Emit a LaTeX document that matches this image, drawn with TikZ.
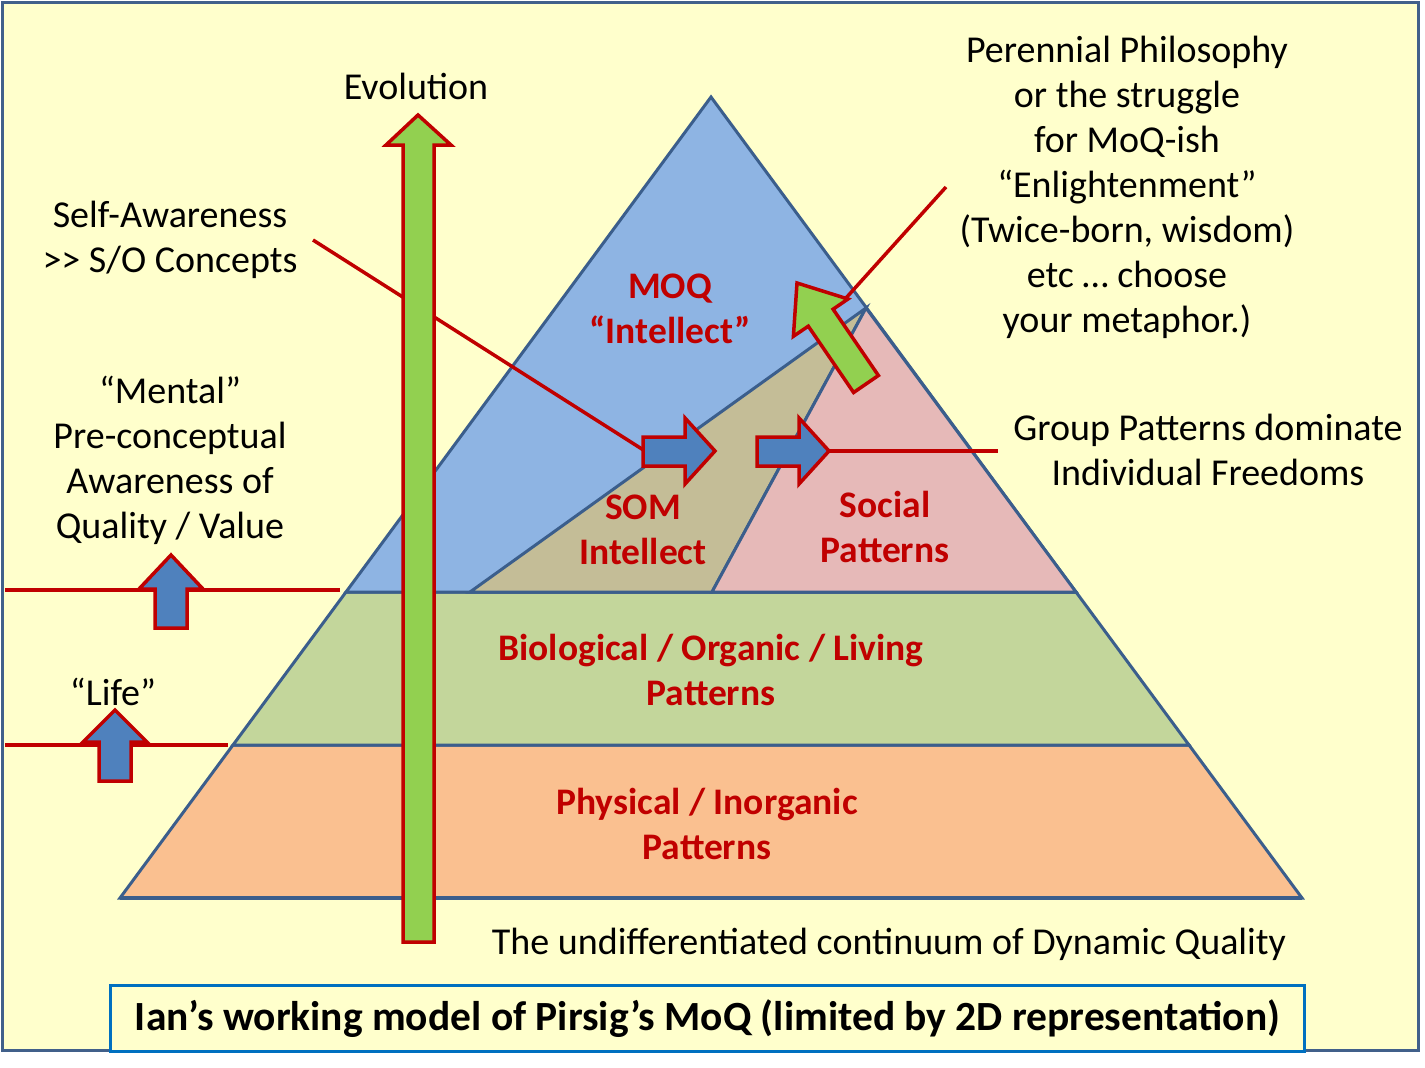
\documentclass[tikz,border=0pt]{standalone}
\usepackage{fontspec}
\setmainfont{Carlito}
\definecolor{bgyel}{HTML}{FFFFCC}
\definecolor{frameblue}{HTML}{41608A}
\definecolor{edgeblue}{HTML}{3B5E8C}
\definecolor{moqblue}{HTML}{8EB4E3}
\definecolor{sombeige}{HTML}{C4BD97}
\definecolor{socpink}{HTML}{E6B9B8}
\definecolor{biogreen}{HTML}{C3D69B}
\definecolor{physorange}{HTML}{FAC090}
\definecolor{darkred}{HTML}{C00000}
\definecolor{arrowgreen}{HTML}{92D050}
\definecolor{arrowblue}{HTML}{4F81BD}
\definecolor{titleblue}{HTML}{0070C0}
\begin{document}
\begin{tikzpicture}[x=1pt,y=-1pt,
  layer/.style={draw=edgeblue,line width=3pt,line join=miter},
  redline/.style={draw=darkred,line width=3.5pt},
  bigarrow/.style={draw=darkred,line width=3.5pt,line join=miter},
  txt/.style={align=center,inner sep=0pt,font=\fontsize{38}{45}\selectfont},
  redtxt/.style={align=center,inner sep=0pt,text=darkred,font=\fontsize{37.5}{45}\selectfont\bfseries}
]
\useasboundingbox (0,0) rectangle (1425,1068);
\fill[white] (0,0) rectangle (1425,1068);
\draw[fill=bgyel,draw=frameblue,line width=3pt] (2,2) rectangle (1418,1050);

% pyramid coordinates
\coordinate (A) at (711,97);
\coordinate (L1) at (346,592);
\coordinate (R1) at (1076,592);
\coordinate (L2) at (233,745);
\coordinate (R2) at (1189,745);
\coordinate (BL) at (120,898);
\coordinate (BR) at (1302,898);
\coordinate (P) at (866,308);
\coordinate (S1) at (470,592);
\coordinate (S2) at (712,592);

\filldraw[layer,fill=physorange] (L2) -- (R2) -- (BR) -- (BL) -- cycle;
\draw[draw=edgeblue,line width=4.5pt] (BL) -- (BR);
\filldraw[layer,fill=biogreen] (L1) -- (R1) -- (R2) -- (L2) -- cycle;
\filldraw[layer,fill=moqblue] (A) -- (R1) -- (L1) -- cycle;
\filldraw[layer,fill=sombeige] (S1) -- (P) -- (S2) -- cycle;
\filldraw[layer,fill=socpink] (S2) -- (P) -- (R1) -- cycle;

% labels inside pyramid
\node[redtxt] (moq) at (670,309) {MOQ\\“Intellect”};
\node[redtxt] (som) at (643,530) {SOM\\Intellect};
\node[redtxt] (social) at (885,527) {Social\\Patterns};
\node[redtxt] (bio) at (711,670) {Biological / Organic / Living\\Patterns};
\node[redtxt] (phys) at (707,824) {Physical / Inorganic\\Patterns};

% side texts
\node[txt] (evo) at (416,86) {Evolution};
\node[txt] (self) at (170,240) {Self-Awareness\\{>}{>} S/O Concepts};
\node[txt] (mental) at (170,460) {“Mental”\\Pre-conceptual\\Awareness of\\Quality / Value};
\node[txt] (life) at (113,692) {“Life”};
\node[txt] (peren) at (1127,187) {Perennial Philosophy\\or the struggle\\for MoQ-ish\\“Enlightenment”\\(Twice-born, wisdom)\\etc … choose\\your metaphor.)};
\node[txt] (group) at (1208,450) {Group Patterns dominate\\Individual Freedoms};
\node[txt] (cont) at (889,944) {The undifferentiated continuum of Dynamic Quality};

% connector coordinates
\coordinate (selfend) at (313,240);
\coordinate (arr1tail) at (645,451);
\coordinate (arr2tip) at (829,451);
\coordinate (groupend) at (998,451);
\coordinate (perenend) at (946,187);
\coordinate (garrcorner) at (846,298);
\coordinate (mentalL) at (5,590);
\coordinate (mentalR) at (340,590);
\coordinate (lifeL) at (5,745);
\coordinate (lifeR) at (228,745);

% red lines
\draw[redline] (selfend) -- (arr1tail);
\draw[redline] (arr2tip) -- (groupend);
\draw[redline] (perenend) -- (garrcorner);
\draw[redline] (mentalL) -- (mentalR);
\draw[redline] (lifeL) -- (lifeR);

% evolution arrow
\filldraw[bigarrow,fill=arrowgreen] (418,115) -- (451,145) -- (434,145) -- (434,942) -- (403,942) -- (403,145) -- (386,145) -- cycle;

% green diagonal arrow
\filldraw[bigarrow,fill=arrowgreen] (797,283) -- (848,299) -- (833.1,309.2) -- (878.4,375.5) -- (853.6,392.5) -- (808.3,326.2) -- (793.4,336.3) -- cycle;

% blue right arrows
\filldraw[bigarrow,fill=arrowblue] (643,437) -- (685,437) -- (685,418) -- (715,451) -- (685,484) -- (685,466) -- (643,466) -- cycle;
\filldraw[bigarrow,fill=arrowblue] (757,437) -- (799,437) -- (799,418) -- (829,451) -- (799,484) -- (799,466) -- (757,466) -- cycle;

% blue up arrows
\filldraw[bigarrow,fill=arrowblue] (171,555) -- (203,589) -- (187,589) -- (187,628) -- (155,628) -- (155,589) -- (139,589) -- cycle;
\filldraw[bigarrow,fill=arrowblue] (115,710) -- (147,742) -- (131,742) -- (131,781) -- (99,781) -- (99,742) -- (83,742) -- cycle;

% title box
\node[draw=titleblue,line width=3.5pt,fill=bgyel,minimum width=1194pt,minimum height=66pt,inner sep=0pt,font=\fontsize{41.5}{45}\selectfont\bfseries] (title) at (707.5,1018.5) {Ian’s working model of Pirsig’s MoQ (limited by 2D representation)};
\end{tikzpicture}
\end{document}
